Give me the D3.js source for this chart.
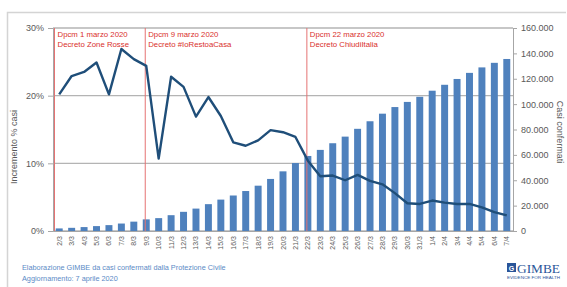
<!DOCTYPE html>
<html><head><meta charset="utf-8">
<script src="https://cdn.jsdelivr.net/npm/d3@7"></script>
<style>body{margin:0;background:#fff}svg{display:block}text{font-family:"Liberation Sans",Arial,sans-serif}</style>
</head><body><svg id="c" width="567" height="287"></svg>
<script>
const dates = ["2/3","3/3","4/3","5/3","6/3","7/3","8/3","9/3","10/3","11/3","12/3","13/3","14/3","15/3","16/3","17/3","18/3","19/3","20/3","21/3","22/3","23/3","24/3","25/3","26/3","27/3","28/3","29/3","30/3","31/3","1/4","2/4","3/4","4/4","5/4","6/4","7/4"];
const cases = [2036,2502,3089,3858,4636,5883,7375,9172,10149,12462,15113,17660,21157,24747,27980,31506,35713,41035,47021,53578,59138,63927,69176,74386,80539,86498,92472,97689,101739,105792,110574,115242,119827,124632,128948,132547,135586];
const pctIncrease = [20.2,22.9,23.5,24.9,20.2,26.9,25.4,24.4,10.7,22.8,21.3,16.9,19.8,17.0,13.1,12.6,13.4,14.9,14.6,13.9,10.4,8.1,8.2,7.5,8.3,7.4,6.9,5.6,4.1,4.0,4.5,4.2,4.0,4.0,3.5,2.8,2.3];
const leftTicks = [0,10,20,30];
const rightTicks = [0,20000,40000,60000,80000,100000,120000,140000,160000];
const events = [
  {date:"2/3", edge:true, lines:["Dpcm 1 marzo 2020","Decreto Zone Rosse"]},
  {date:"9/3", edge:false, lines:["Dpcm 9 marzo 2020","Decreto #IoRestoaCasa"]},
  {date:"22/3", edge:false, lines:["Dpcm 22 marzo 2020","Decreto ChiudiItalia"]}
];
const leftTitle = "Incremento % casi";
const rightTitle = "Casi confermati";
const footer = ["Elaborazione GIMBE da casi confermati dalla Protezione Civile","Aggiornamento: 7 aprile 2020"];

const svg = d3.select("#c");
const L=53, R=513, T=28, B=231;
// outer frame
svg.append("path").attr("d","M7.5,287 V12.5 H566").attr("fill","none").attr("stroke","#d4d4d4").attr("stroke-width",1.5);

const x = d3.scaleBand().domain(dates).range([L,R]).paddingInner(0.44).paddingOuter(0.22);
const yL = d3.scaleLinear().domain([0,30]).range([B,T]);
const yR = d3.scaleLinear().domain([0,160000]).range([B,T]);
const cx = d => x(d)+x.bandwidth()/2;

// gridlines
svg.append("g").selectAll("line").data(leftTicks).join("line")
  .attr("x1",L).attr("x2",R).attr("y1",d=>yL(d)).attr("y2",d=>yL(d))
  .attr("stroke","#b4b4b4").attr("stroke-width",1.3);

// bars
svg.append("g").selectAll("rect").data(dates).join("rect")
  .attr("x",d=>x(d)).attr("width",x.bandwidth())
  .attr("y",(d,i)=>yR(cases[i])).attr("height",(d,i)=>B-yR(cases[i]))
  .attr("fill","#4f81bd");

// left axis
const la = svg.append("g").attr("transform",`translate(${L},0)`)
  .call(d3.axisLeft(yL).tickValues(leftTicks).tickFormat(d=>d+"%").tickSize(5).tickPadding(4));
la.select(".domain").attr("stroke","#a6a6a6");
la.selectAll(".tick line").attr("stroke","#a6a6a6");
la.selectAll("text").attr("font-size",9).attr("fill","#595959").attr("font-family","Liberation Sans, Arial");

// right axis
const ra = svg.append("g").attr("transform",`translate(${R},0)`)
  .call(d3.axisRight(yR).tickValues(rightTicks).tickFormat(d=>d3.format(",")(d).replace(/,/g,".")).tickSize(4).tickPadding(4));
ra.select(".domain").attr("stroke","#a6a6a6");
ra.selectAll(".tick line").attr("stroke","#a6a6a6");
ra.selectAll("text").attr("font-size",9).attr("fill","#595959").attr("font-family","Liberation Sans, Arial");

// bottom axis
const ba = svg.append("g").attr("transform",`translate(0,${B})`)
  .call(d3.axisBottom(x).tickSize(0).tickPadding(0));
ba.select(".domain").attr("stroke","#a6a6a6");
ba.selectAll("text").attr("font-size",7).attr("fill","#595959").attr("font-family","Liberation Sans, Arial")
  .attr("text-anchor","end").attr("dy",null).attr("y",null)
  .attr("transform","translate(2.5,5) rotate(-90)");

// event lines
const ev = svg.append("g");
events.forEach(e=>{
  const px = e.edge ? x(e.date)-x.step()*x.paddingOuter()+1.5 : cx(e.date)-1;
  ev.append("line").attr("x1",px).attr("x2",px).attr("y1",T).attr("y2",B)
    .attr("stroke","#e57373").attr("stroke-width",1);
  e.lines.forEach((t,k)=>{
    ev.append("text").attr("x",px+3).attr("y",T+8.5+k*10.5).text(t)
      .attr("font-size",7.8).attr("fill","#d9302c");
  });
});

// line
svg.append("path").datum(pctIncrease)
  .attr("d",d3.line().x((d,i)=>cx(dates[i])).y(d=>yL(d)))
  .attr("fill","none").attr("stroke","#1f4e79").attr("stroke-width",2.4).attr("stroke-linejoin","round");

// axis titles
svg.append("text").attr("transform","translate(17,147) rotate(-90)").attr("text-anchor","middle")
  .attr("font-size",9).attr("fill","#595959").text(leftTitle);
svg.append("text").attr("transform","translate(557,132) rotate(90)").attr("text-anchor","middle")
  .attr("font-size",9).attr("fill","#595959").text(rightTitle);

// footer
footer.forEach((t,k)=>svg.append("text").attr("x",22).attr("y",270+k*11).text(t)
  .attr("font-size",7.3).attr("fill","#5b8ac6"));

// logo
const lg = svg.append("g");
lg.append("rect").attr("x",507).attr("y",263).attr("width",9).attr("height",9).attr("fill","#2a5599");
lg.append("text").attr("x",511.5).attr("y",270.5).attr("text-anchor","middle").attr("font-size",7).attr("fill","#fff").attr("font-weight","bold").text("G");
lg.append("text").attr("x",517).attr("y",273).attr("font-size",13).attr("fill","#2a5599")
  .style("font-family","'Liberation Serif','DejaVu Serif',serif").attr("textLength",43).attr("lengthAdjust","spacingAndGlyphs").text("GIMBE");
lg.append("text").attr("x",507).attr("y",279).attr("font-size",3.3).attr("fill","#2a5599").attr("textLength",53).attr("lengthAdjust","spacingAndGlyphs").text("EVIDENCE FOR HEALTH");
</script></body></html>
